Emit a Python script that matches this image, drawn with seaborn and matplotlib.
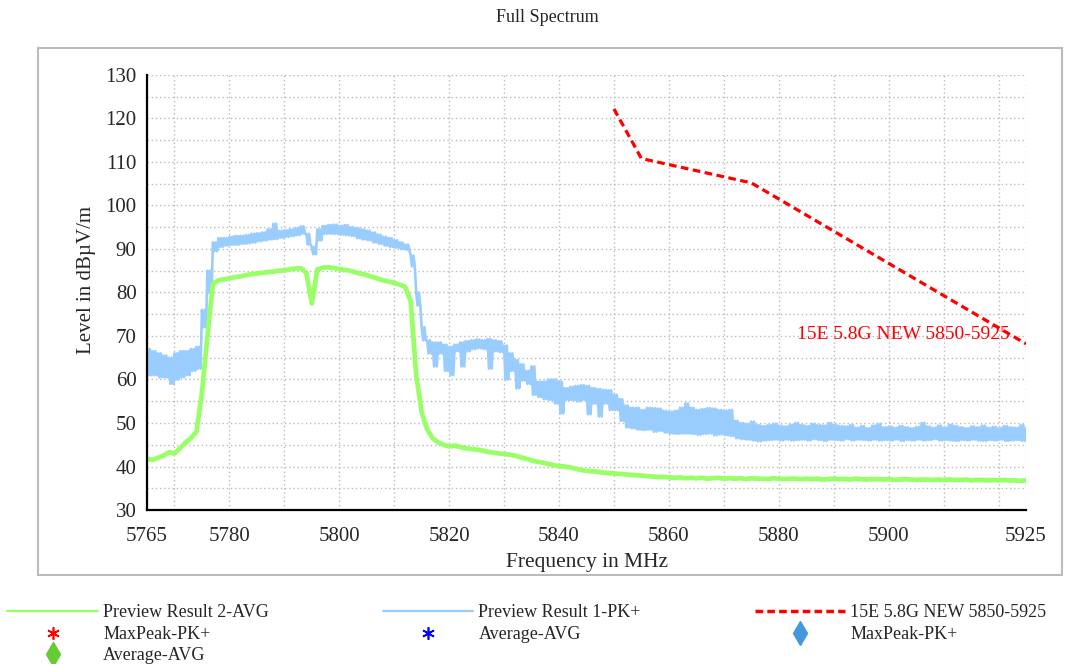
import numpy as np
import pandas as pd
import matplotlib
matplotlib.use("Agg")
import matplotlib.pyplot as plt
from matplotlib.lines import Line2D
from matplotlib.patches import Rectangle
import seaborn as sns

# frequency grid of the traces (MHz), one value per MHz
freq = list(range(5765, 5926))

# Preview Result 1-PK+ : upper / lower edge of the noisy trace
pk_hi = [67, 66.5, 66, 65.5, 65, 66, 66.5, 66.5, 67, 67.5,
         76, 85, 91.5, 92.5, 92.5, 92.8, 93, 93, 93.2, 93.5,
         93.6, 93.8, 94.5, 95.8, 94.2, 94.3, 94.5, 94.8, 95.2, 93.5,
         90.5, 94.5, 95.3, 95.5, 95.6, 95.3, 95.5, 95, 94.8, 94.5,
         94.2, 93.8, 93.3, 92.8, 92.5, 92, 91.5, 91, 88.5, 80,
         72, 69, 68.5, 68.5, 68, 67.5, 68, 68.5, 68.8, 69,
         69.2, 69, 69.3, 69, 68.8, 67.8, 66, 64.5, 63.5, 62,
         63, 59.5, 59.5, 60, 60, 59.5, 58, 58.3, 58.5, 58.7,
         58.5, 58, 57.8, 57.6, 57.5, 56.5, 55.5, 54, 53.5, 53.5,
         53, 53.5, 53.4, 53.3, 52.8, 52.6, 52.8, 53.5, 54.5, 53.5,
         53, 53.2, 53.4, 53.3, 53, 52.8, 53, 50.5, 50, 49.8,
         50.3, 49.5, 49.3, 49.5, 49.8, 49.4, 49.2, 49.6, 50, 49.5,
         49.3, 49.8, 49.5, 49.4, 50, 49.6, 49.3, 49.2, 49.5, 48.9,
         49.3, 48.8, 49.4, 49.8, 49, 49.2, 48.9, 49.3, 49, 48.8,
         49.1, 50, 49.2, 48.9, 49.4, 48.9, 49.6, 49.3, 49, 48.8,
         49.2, 49, 49.4, 48.9, 49.1, 48.8, 49.3, 49, 48.9, 49.5,
         48.8]
pk_lo = [61, 61, 60.5, 60.5, 59, 60, 60.5, 61, 62, 62.5,
         72, 80, 89.5, 90.5, 90.8, 91, 91, 91.2, 91.3, 91.5,
         91.8, 92, 92.2, 92.3, 92.6, 92.8, 93, 93.2, 93.5, 91,
         88.8, 92, 93.5, 93.5, 93.5, 93.3, 93.2, 93, 92.5, 92.2,
         92, 91.5, 91.2, 90.8, 90.5, 90.3, 90, 89.8, 86, 77,
         69, 66, 63, 66, 62, 61, 66.5, 63, 66.5, 67,
         67.2, 67, 62.5, 66.5, 66.3, 60, 62, 58, 59.8, 59,
         56.5, 56, 55.5, 55.3, 54.5, 52.2, 55.3, 55.3, 55, 55.3,
         52, 54.5, 51.5, 54.5, 53, 53, 50.5, 49, 48.8, 48.5,
         48.4, 48.5, 48, 48.2, 47.8, 47.6, 47.5, 47.6, 47.6, 47.5,
         47.3, 47.5, 47.6, 47.2, 47.4, 47.2, 47, 46.5, 46.3, 46.2,
         46, 45.8, 46, 46.1, 46.2, 46, 46.2, 46, 46.1, 46.2,
         46, 46.3, 46.1, 45.9, 46.2, 46.1, 46, 46.3, 46, 46.2,
         46.1, 46, 46.2, 46, 46.1, 46, 46.2, 45.9, 46.1, 46,
         46.2, 46, 46.1, 46.3, 46, 46.1, 46, 45.9, 46.1, 46,
         46.2, 46, 45.9, 46.1, 46, 46.2, 45.9, 46, 46.1, 45.9,
         46]

# Preview Result 2-AVG
avg = [41.8, 41.5, 42, 42.5, 43.3, 43, 44.2, 45.5, 46.5, 48,
       57, 70, 82, 82.8, 83, 83.3, 83.5, 83.7, 84, 84.2,
       84.4, 84.5, 84.7, 84.8, 85, 85.1, 85.3, 85.5, 85.6, 84.5,
       77.5, 85.3, 85.7, 85.8, 85.6, 85.4, 85.2, 85, 84.6, 84.3,
       84, 83.6, 83.2, 82.8, 82.5, 82.2, 81.8, 81.3, 78, 61,
       52.5, 48.5, 46.5, 45.5, 45, 44.6, 44.8, 44.5, 44.2, 44,
       43.9, 43.7, 43.4, 43.2, 43, 42.9, 42.7, 42.5, 42.1, 41.8,
       41.4, 41.1, 40.9, 40.6, 40.3, 40.1, 40, 39.8, 39.5, 39.2,
       39, 38.9, 38.8, 38.6, 38.5, 38.4, 38.3, 38.2, 38.1, 38,
       37.9, 37.8, 37.7, 37.6, 37.6, 37.5, 37.4, 37.5, 37.3, 37.4,
       37.3, 37.4, 37.2, 37.3, 37.4, 37.2, 37.3, 37.2, 37.3, 37.1,
       37.3, 37.2, 37.2, 37.1, 37.3, 37.2, 37.1, 37.2, 37.2, 37.1,
       37.2, 37.1, 37.2, 37.0, 37.1, 37.2, 37.1, 37.1, 37.0, 37.2,
       37.1, 37.0, 37.1, 37.1, 37.0, 37.1, 36.9, 37.0, 37.1, 37.0,
       36.9, 37.0, 37.0, 36.9, 37.0, 36.9, 37.0, 36.9, 36.9, 37.0,
       36.8, 36.9, 36.9, 36.8, 36.9, 36.8, 36.9, 36.8, 36.8, 36.7,
       36.8]

# limit line 15E 5.8G NEW 5850-5925
lim_freq = [5850, 5855, 5875, 5925]
lim_level = [122.2, 110.8, 105.2, 68.2]

x_labels = {5765: "5765", 5780: "5780", 5800: "5800", 5820: "5820", 5840: "5840",
            5860: "5860", 5880: "5880", 5900: "5900", 5925: "5925"}

c_pk = "#99CCFF"
c_avg = "#99FF66"
c_lim = "#FF0000"

# peak trace: each 1 MHz bin drawn as its upper and lower edge (twice), like a sweep
pk = pd.DataFrame({
    "f": [f + d for f in freq for d in (0, 0.25, 0.5, 0.75)],
    "level": [v for hi, lo in zip(pk_hi, pk_lo) for v in (hi, lo, hi, lo)],
})
av = pd.DataFrame({"f": freq, "level": avg})
lim = pd.DataFrame({"f": lim_freq, "level": lim_level})

sns.set_style("white")
plt.rcParams["font.family"] = ["Liberation Serif", "DejaVu Serif"]

fig = plt.figure(figsize=(10.72, 6.64), dpi=100)
ax = fig.add_axes([147 / 1072, 1 - 510 / 664, 879 / 1072, 435 / 664])

sns.lineplot(data=pk, x="f", y="level", ax=ax, color=c_pk, lw=1.9,
             estimator=None, sort=False)
sns.lineplot(data=av, x="f", y="level", ax=ax, color=c_avg, lw=3.4,
             estimator=None, sort=False)
sns.lineplot(data=lim, x="f", y="level", ax=ax, color=c_lim, lw=2.3,
             estimator=None, sort=False)
ax.lines[-1].set_linestyle((0, (2.4, 1.4)))

ax.text(5922, 70.3, "15E 5.8G NEW 5850-5925", color=c_lim, fontsize=14,
        ha="right", va="center")

ax.set_xlim(5765, 5925)
ax.set_ylim(30, 130)
xt = [5765] + list(range(5770, 5921, 10)) + [5925]
ax.set_xticks(xt)
ax.set_xticklabels([x_labels.get(t, "") for t in xt])
ax.set_yticks(range(30, 131, 10))
ax.set_yticks(range(35, 130, 10), minor=True)
ax.tick_params(which="both", direction="inout", length=11, width=1.5,
               labelsize=15, color="black")
ax.tick_params(axis="y", pad=2)
ax.tick_params(axis="x", pad=7)
ax.grid(True, which="both", color="#BBBBBB", ls=(0, (1, 2)), lw=1.0)
ax.set_axisbelow(True)
for s in ["top", "right"]:
    ax.spines[s].set_visible(False)
for s in ["left", "bottom"]:
    ax.spines[s].set_color("black")
    ax.spines[s].set_linewidth(1.6)

ax.set_xlabel("Frequency in MHz", fontsize=15.5)
ax.set_ylabel("Level in dB\u00b5V/m", fontsize=15)
ax.xaxis.set_label_coords(0.5, -(553 - 510) / 435)
ax.yaxis.set_label_coords(-(147 - 96) / 879, (510 - 280) / 435)

fig.text(0.511, 1 - 17 / 664, "Full Spectrum", ha="center", va="center", fontsize=13)

fig.patches.append(Rectangle((38 / 1072, 1 - 575 / 664), 1024 / 1072, 527 / 664,
                             transform=fig.transFigure, fill=False,
                             edgecolor="#BBBBBB", lw=1.5))

handles = [
    Line2D([], [], color=c_avg, lw=1.6),
    Line2D([], [], color=c_lim, ls="none", marker=(6, 2, 0), ms=9, mew=1.2),
    Line2D([], [], color="#66CC33", ls="none", marker="d", ms=12),
    Line2D([], [], color=c_pk, lw=1.6),
    Line2D([], [], color="#0000FF", ls="none", marker=(6, 2, 0), ms=9, mew=1.2),
    Line2D([], [], color=c_lim, lw=2.5, ls=(0, (2.2, 1.2))),
    Line2D([], [], color="#4499DD", ls="none", marker="d", ms=12),
]
labels = ["Preview Result 2-AVG", "MaxPeak-PK+", "Average-AVG",
          "Preview Result 1-PK+", "Average-AVG",
          "15E 5.8G NEW 5850-5925", "MaxPeak-PK+"]
fig.legend(handles, labels, loc="upper left", bbox_to_anchor=(2 / 1072, 1 - 599 / 664),
           ncol=3, frameon=False, fontsize=13, handlelength=5.0, handletextpad=0.3,
           columnspacing=6.3, labelspacing=0.25, borderaxespad=0, borderpad=0.3)

fig.savefig("out.png", dpi=100)
